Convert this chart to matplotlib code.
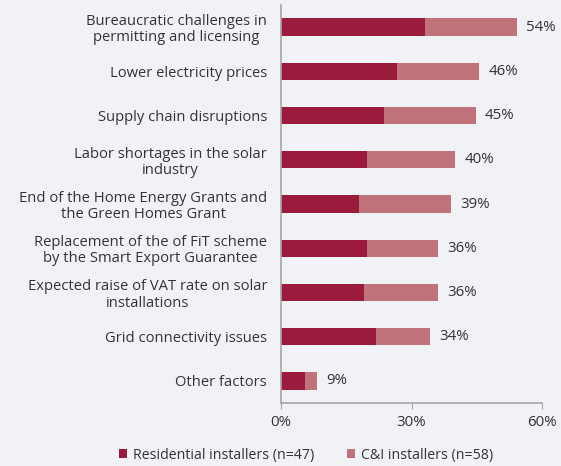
import matplotlib
matplotlib.use("Agg")
import matplotlib.pyplot as plt
import numpy as np

categories = [
    "Bureaucratic challenges in\npermitting and licensing",
    "Lower electricity prices",
    "Supply chain disruptions",
    "Labor shortages in the solar\nindustry",
    "End of the Home Energy Grants and\nthe Green Homes Grant",
    "Replacement of the of FiT scheme\nby the Smart Export Guarantee",
    "Expected raise of VAT rate on solar\ninstallations",
    "Grid connectivity issues",
    "Other factors",
]
residential = [33.1, 26.6, 23.7, 19.8, 18.0, 19.8, 19.0, 21.8, 5.5]
ci = [21.1, 19.0, 21.1, 20.2, 21.1, 16.4, 17.2, 12.4, 2.8]
total_labels = ["54%", "46%", "45%", "40%", "39%", "36%", "36%", "34%", "9%"]
xticks = [0, 30, 60]
xtick_labels = ["0%", "30%", "60%"]
series_names = ["Residential installers (n=47)", "C&I installers (n=58)"]

plt.rcParams['font.family'] = ['Open Sans', 'DejaVu Sans']
bg = "#f0f2f5"
dark = "#9b1b3c"
light = "#c1737b"
txt = "#333333"
axc = "#a6a6a6"

fig = plt.figure(figsize=(5.61, 4.66), dpi=100, facecolor=bg)
ax = fig.add_axes([281/561, 1-403/466, (542-281)/561, (403-5)/466], facecolor=bg)

y = np.arange(len(categories))
h = 0.39
ax.barh(y, residential, height=h, color=dark, label=series_names[0])
ax.barh(y, ci, left=residential, height=h, color=light, label=series_names[1])
for yi, r, c, lab in zip(y, residential, ci, total_labels):
    ax.text(r + c + 2.1, yi, lab, va='center', ha='left', fontsize=10.8, color=txt)

ax.set_ylim(len(categories) - 0.5, -0.5)
ax.set_xlim(0, 60)
ax.set_yticks(y)
ax.set_yticklabels(categories, fontsize=10.6, color=txt, multialignment='center', linespacing=1.1)
ax.tick_params(axis='y', length=0, pad=10)
ax.set_xticks(xticks)
ax.set_xticklabels(xtick_labels, fontsize=10.8, color=txt)
ax.tick_params(axis='x', direction='out', length=4, color=axc, pad=5)
for s in ['top', 'right']:
    ax.spines[s].set_visible(False)
for s in ['left', 'bottom']:
    ax.spines[s].set_color(axc)
    ax.spines[s].set_linewidth(1.2)

ax.legend(loc='upper center', bbox_to_anchor=(0.095, -0.08), ncol=2, frameon=False,
          fontsize=10.2, handlelength=0.6, handleheight=0.6, columnspacing=2.3,
          handletextpad=0.4, labelcolor=txt)

fig.savefig("out.png", dpi=100, facecolor=bg)
